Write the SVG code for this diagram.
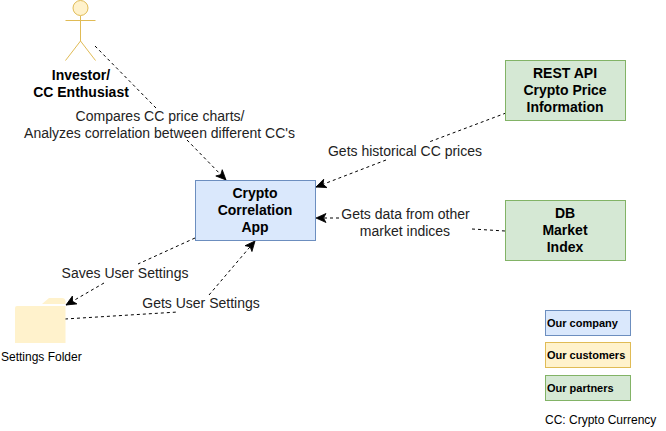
<svg xmlns="http://www.w3.org/2000/svg" width="666" height="431" viewBox="0 0 666 431">
<defs>
<marker id="arrow" markerUnits="userSpaceOnUse" markerWidth="12" markerHeight="12" viewBox="0 0 12 12" refX="11" refY="6" orient="auto"><path d="M11 6L1 1.5L3.500 6L1 10.500Z" fill="#000" stroke="#000" stroke-width="0.8"/></marker>
</defs>
<style>
text{font-family:"Liberation Sans",Arial,sans-serif;fill:#000}
.b{font-weight:700;font-size:14px;text-anchor:middle}
.l{font-size:14px;text-anchor:middle;fill:#222}
.k{font-weight:700;font-size:11px}
.c{fill:none;stroke:#000;stroke-width:1;stroke-dasharray:3 3}
.blue{fill:#dae8fc;stroke:#6c8ebf}
.yellow{fill:#fff2cc;stroke:#e0bb55}
.green{fill:#d5e8d4;stroke:#82b366}
</style>
<rect width="666" height="431" fill="#fff"/>
<g id="connectors">
<path class="c" d="M95 46L156 108"/>
<path class="c" d="M187 140L226 180" marker-end="url(#arrow)"/>
<path class="c" d="M506 113L429 142"/>
<path class="c" d="M386 160L316 187" marker-end="url(#arrow)"/>
<path class="c" d="M472 229L505 231"/>
<path class="c" d="M339 218L316 218" marker-end="url(#arrow)"/>
<path class="c" d="M195 238L138 264"/>
<path class="c" d="M104 283L66 305" marker-end="url(#arrow)"/>
<path class="c" d="M65 319L178 312"/>
<path class="c" d="M209 295L255 241" marker-end="url(#arrow)"/>
</g>
<g id="actor">
<circle class="yellow" cx="80.500" cy="8" r="7.500" stroke-width="1"/>
<path d="M80.500 16V41M65.500 20.500H95.500M65.500 60.500L80.500 41L95.500 60.500" fill="none" stroke="#e0bb55" stroke-width="1"/>
<text class="b" x="81" y="80">Investor/</text>
<text class="b" x="81" y="97">CC Enthusiast</text>
</g>
<g id="app">
<rect class="blue" x="195.500" y="180.500" width="120" height="60"/>
<text class="b" x="255" y="198">Crypto</text>
<text class="b" x="255" y="215">Correlation</text>
<text class="b" x="255" y="232">App</text>
</g>
<g id="rest-api">
<rect class="green" x="505.500" y="60.500" width="120" height="60"/>
<text class="b" x="565" y="78">REST API</text>
<text class="b" x="565" y="95">Crypto Price</text>
<text class="b" x="565" y="112">Information</text>
</g>
<g id="db">
<rect class="green" x="505.500" y="200.500" width="120" height="60"/>
<text class="b" x="565" y="218">DB</text>
<text class="b" x="565" y="235">Market</text>
<text class="b" x="565" y="252">Index</text>
</g>
<g id="folder">
<path d="M15 343V308Q15 306 17 306H65.500V343ZM42 304L49 298H62Q65 298 65.500 301V304Z" fill="#fff2cc"/>
<text x="1" y="361" font-size="12" fill="#222">Settings Folder</text>
</g>
<g id="labels">
<text class="l" x="160" y="121">Compares CC price charts/</text>
<text class="l" x="159.500" y="138">Analyzes correlation between different CC's</text>
<text class="l" x="405" y="156">Gets historical CC prices</text>
<text class="l" x="405.500" y="219">Gets data from other</text>
<text class="l" x="405" y="236">market indices</text>
<text class="l" x="125" y="278">Saves User Settings</text>
<text class="l" x="201" y="308">Gets User Settings</text>
</g>
<g id="legend">
<rect class="blue" x="545.500" y="310.500" width="85" height="25"/>
<text class="k" x="547" y="327">Our company</text>
<rect class="yellow" x="545.500" y="342.500" width="85" height="25"/>
<text class="k" x="547" y="359">Our customers</text>
<rect class="green" x="545.500" y="375.500" width="85" height="25"/>
<text class="k" x="547" y="392">Our partners</text>
<text x="545" y="424" font-size="12" fill="#222">CC: Crypto Currency</text>
</g>
</svg>
